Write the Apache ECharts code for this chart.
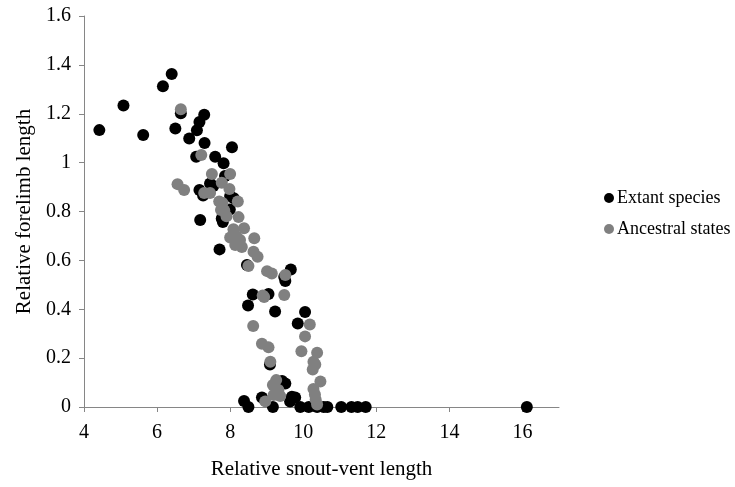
<!DOCTYPE html>
<html>
<head>
<meta charset="utf-8">
<script src="https://cdn.jsdelivr.net/npm/echarts@6/dist/echarts.min.js"></script>
<style>
  html, body { margin: 0; padding: 0; background: #fff; }
  #chart { width: 735px; height: 487px; }
</style>
</head>
<body>
<div id="chart"></div>
<script>
// Extant species: [relative snout-vent length, relative forelimb length]
const extantSpecies = [
  [4.42, 1.133], [5.08, 1.234], [5.62, 1.113], [6.16, 1.313], [6.40, 1.363],
  [6.65, 1.202], [6.50, 1.140], [7.29, 1.196], [7.16, 1.166], [7.09, 1.132],
  [6.88, 1.099], [7.30, 1.080], [7.07, 1.024], [7.59, 1.024], [8.05, 1.063],
  [7.82, 0.997], [7.86, 0.945], [7.45, 0.915], [7.54, 0.904], [7.16, 0.888],
  [7.26, 0.865], [8.00, 0.863], [8.10, 0.854], [7.99, 0.808], [7.18, 0.765],
  [7.77, 0.771], [7.80, 0.757], [7.71, 0.645], [8.46, 0.581], [9.66, 0.563],
  [9.48, 0.532], [9.51, 0.516], [8.62, 0.460], [9.05, 0.462], [8.49, 0.415],
  [9.23, 0.391], [10.05, 0.389], [9.85, 0.342], [9.09, 0.174], [9.42, 0.106],
  [9.51, 0.096], [8.87, 0.039], [9.69, 0.042], [9.78, 0.039], [9.64, 0.022],
  [8.38, 0.025], [8.50, 0], [9.17, 0], [9.92, 0], [10.15, 0],
  [10.38, 0], [10.56, 0], [10.66, 0], [11.04, 0], [11.32, 0],
  [11.49, 0], [11.71, 0], [16.12, 0]
];

// Reconstructed ancestral states
const ancestralStates = [
  [6.65, 1.218], [7.21, 1.031], [7.50, 0.953], [8.00, 0.953], [7.77, 0.918],
  [6.56, 0.912], [6.74, 0.888], [7.98, 0.892], [7.29, 0.876], [7.45, 0.876],
  [7.70, 0.841], [7.79, 0.835], [8.21, 0.841], [7.75, 0.806], [7.84, 0.804],
  [7.90, 0.781], [8.23, 0.777], [8.09, 0.727], [8.38, 0.731], [8.00, 0.694],
  [8.18, 0.697], [8.27, 0.683], [8.14, 0.663], [8.32, 0.655], [8.66, 0.691],
  [8.64, 0.635], [8.75, 0.615], [8.50, 0.577], [9.01, 0.556], [9.14, 0.546],
  [9.51, 0.540], [8.89, 0.456], [8.93, 0.450], [9.48, 0.458], [10.18, 0.338],
  [8.63, 0.331], [10.05, 0.289], [8.87, 0.259], [9.05, 0.244], [9.95, 0.228],
  [10.38, 0.222], [10.28, 0.185], [10.33, 0.174], [10.26, 0.153], [9.10, 0.185],
  [10.47, 0.104], [9.26, 0.110], [9.17, 0.090], [9.32, 0.070], [9.19, 0.049],
  [9.37, 0.045], [10.28, 0.074], [10.32, 0.051], [10.34, 0.031], [10.38, 0.010],
  [8.96, 0.023]
];

const xTickValues = [4, 6, 8, 10, 12, 14, 16];
const seriesNames = ['Extant species', 'Ancestral states'];
const xTitle = 'Relative snout-vent length';
const yTitle = 'Relative forelimb length';

const FONT = '"Liberation Serif", "Times New Roman", serif';
const AXIS_GREY = '#868686';

const chart = echarts.init(document.getElementById('chart'), null, { renderer: 'canvas' });

chart.setOption({
  animation: false,
  backgroundColor: '#ffffff',
  textStyle: { fontFamily: FONT, color: '#000' },
  grid: { left: 84, right: 176, top: 16, bottom: 80, containLabel: false },
  legend: {
    orient: 'vertical',
    left: 599,
    top: 184,
    itemWidth: 10,
    itemHeight: 10,
    itemGap: 13,
    icon: 'circle',
    textStyle: { fontFamily: FONT, fontSize: 18, color: '#000', padding: [0, 0, 0, -2] },
    data: seriesNames
  },
  xAxis: {
    type: 'value',
    min: 4,
    max: 17,
    interval: 2,
    name: xTitle,
    nameLocation: 'middle',
    nameGap: 52,
    nameTextStyle: { fontFamily: FONT, fontSize: 21, color: '#000' },
    axisLine: { show: true, onZero: false, lineStyle: { color: AXIS_GREY, width: 1 } },
    axisTick: { show: true, length: 5, lineStyle: { color: AXIS_GREY }, customValues: xTickValues },
    axisLabel: { fontFamily: FONT, fontSize: 20, color: '#000', margin: 16, customValues: xTickValues },
    splitLine: { show: false }
  },
  yAxis: {
    type: 'value',
    min: 0,
    max: 1.6,
    interval: 0.2,
    name: yTitle,
    nameLocation: 'middle',
    nameGap: 48,
    nameTextStyle: { fontFamily: FONT, fontSize: 21, color: '#000' },
    axisLine: { show: true, lineStyle: { color: AXIS_GREY, width: 1 } },
    axisTick: { show: true, length: 5, lineStyle: { color: AXIS_GREY } },
    axisLabel: { fontFamily: FONT, fontSize: 20, color: '#000', margin: 13 },
    splitLine: { show: false }
  },
  series: [
    {
      name: seriesNames[0],
      type: 'scatter',
      symbol: 'circle',
      symbolSize: 12,
      itemStyle: { color: '#000000', opacity: 1 },
      data: extantSpecies,
      z: 2
    },
    {
      name: seriesNames[1],
      type: 'scatter',
      symbol: 'circle',
      symbolSize: 12,
      itemStyle: { color: '#808080', opacity: 1 },
      data: ancestralStates,
      z: 3
    }
  ]
});
</script>
</body>
</html>
